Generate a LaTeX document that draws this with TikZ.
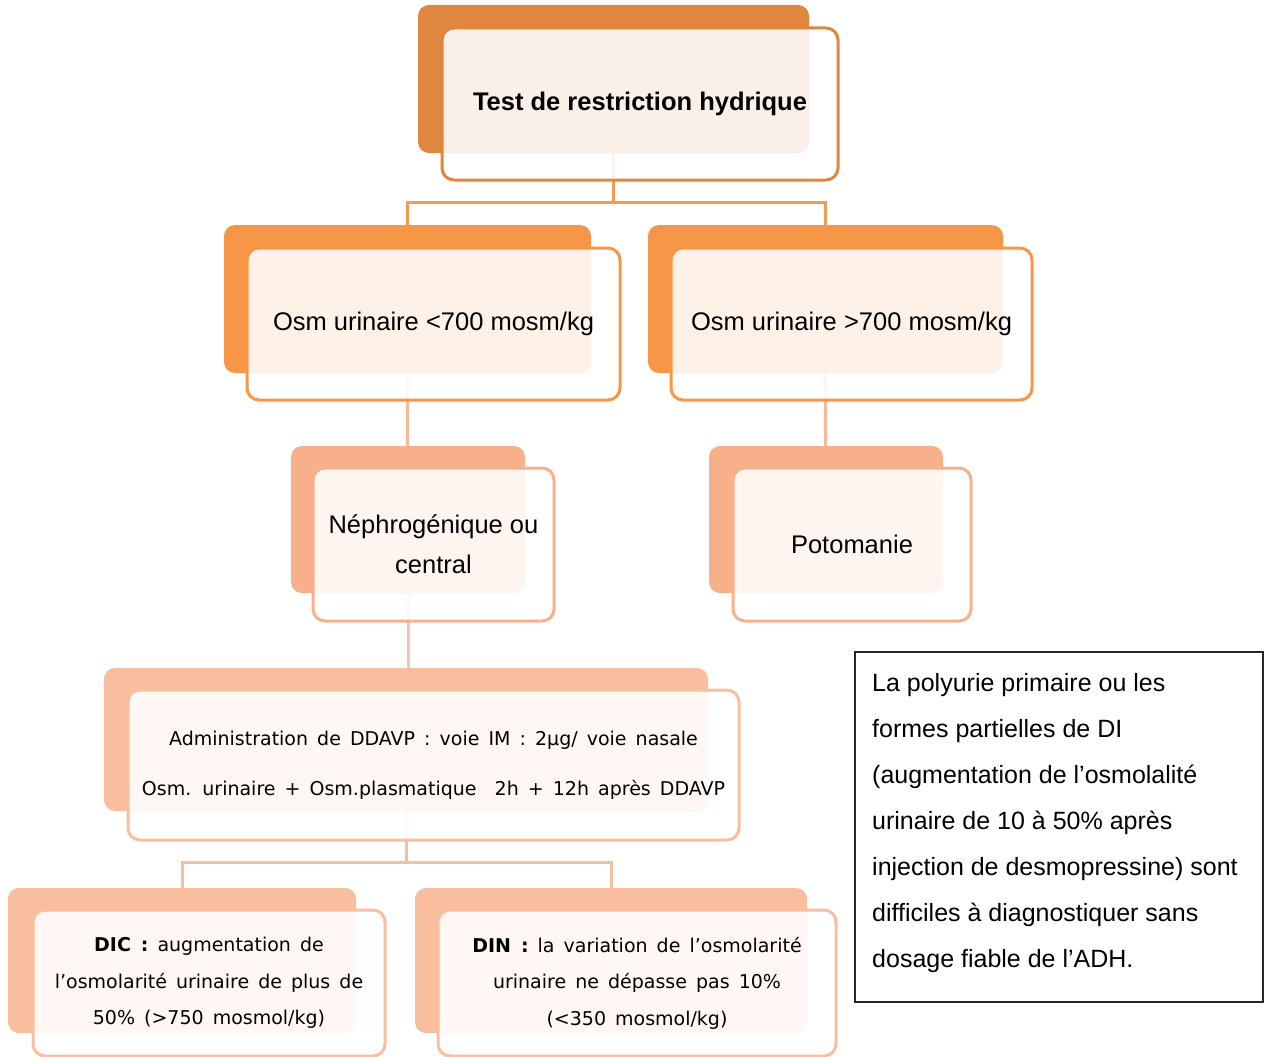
\documentclass[tikz,border=0pt]{standalone}
\usepackage{fontspec}
\setmainfont{Liberation Sans}
\newfontfamily\tah[WordSpace=1.5]{DejaVu Sans}
\usetikzlibrary{calc}

\definecolor{ocA}{HTML}{E0863F}
\definecolor{ocB}{HTML}{F79646}
\definecolor{ocC}{HTML}{F7B08A}
\definecolor{ocD}{HTML}{F8BE9E}
\definecolor{lnA}{HTML}{F59A55}
\definecolor{lnB}{HTML}{F9B995}
\definecolor{lnC}{HTML}{F9C5A8}
\definecolor{lnD}{HTML}{F8BF9F}

\tikzset{
  backtile/.style={draw=none, fill=#1, rounded corners=11pt, anchor=north west,
    inner sep=0pt, outer sep=0pt},
  fronttile/.style={draw=#1, line width=3pt, fill=white, fill opacity=0.88,
    text opacity=1, rounded corners=12pt, anchor=north west, inner sep=0pt,
    outer sep=0pt, align=center, text=black},
  link/.style={draw=#1, line width=3pt},
  notebox/.style={draw=black!85, line width=1.8pt, anchor=north west,
    inner sep=0pt},
  notetext/.style={anchor=north west, inner sep=0pt, align=left, text=black,
    font=\fontsize{25}{46}\selectfont},
  big/.style={font=\fontsize{25.5}{40}\selectfont},
  small/.style={font=\tah\fontsize{19}{36.5}\selectfont},
}

\begin{document}
\begin{tikzpicture}[x=1pt, y=-1pt]
\useasboundingbox (0,0) rectangle (1264,1057);

% back tiles
\node[backtile=ocA, minimum width=391pt, minimum height=148pt] (t1b) at (418,5) {};
\node[backtile=ocB, minimum width=367pt, minimum height=148pt] (l2ab) at (224,225) {};
\node[backtile=ocB, minimum width=355pt, minimum height=148pt] (l2bb) at (648,225) {};
\node[backtile=ocC, minimum width=234pt, minimum height=147pt] (l3ab) at (291,446) {};
\node[backtile=ocC, minimum width=234pt, minimum height=147pt] (l3bb) at (709,446) {};
\node[backtile=ocD, minimum width=604pt, minimum height=143pt] (l4b) at (104,668) {};
\node[backtile=ocD, minimum width=348pt, minimum height=145pt] (l5ab) at (8,888) {};
\node[backtile=ocD, minimum width=392pt, minimum height=145pt] (l5bb) at (415,888) {};

% connectors
\coordinate (j1) at (t1b.south |- 0,202);
\draw[link=lnA] (t1b.south) -- (j1);
\draw[link=lnA] (j1) -| (l2ab.north);
\draw[link=lnA] (j1) -| (l2bb.north);
\draw[link=lnB] (l2ab.south) -- (l2ab.south |- l3ab.north);
\draw[link=lnB] (l2bb.south) -- (l2bb.south |- l3bb.north);
\draw[link=lnC] (l3ab.south) -- (l3ab.south |- l4b.north);
\coordinate (j2) at (l4b.south |- 0,862);
\draw[link=lnD] (l4b.south) -- (j2);
\draw[link=lnD] (j2) -| (l5ab.north);
\draw[link=lnD] (j2) -| (l5bb.north);

% front tiles with their texts
\node[fronttile=ocA, minimum width=396pt, minimum height=152pt,
  font=\fontsize{25.5}{30}\selectfont\bfseries] (t1f) at (442,28)
  {Test de restriction hydrique};
\node[fronttile=ocB, minimum width=373pt, minimum height=152pt, big] (l2af) at (247,248)
  {Osm urinaire <700 mosm/kg};
\node[fronttile=ocB, minimum width=361pt, minimum height=152pt, big] (l2bf) at (671,248)
  {Osm urinaire >700 mosm/kg};
\node[fronttile=ocC, minimum width=241pt, minimum height=153pt, big] (l3af) at (313,468)
  {Néphrogénique ou\\central};
\node[fronttile=ocC, minimum width=238pt, minimum height=153pt, big] (l3bf) at (733,468)
  {Potomanie};
\node[fronttile=ocD, minimum width=611pt, minimum height=150pt,
  font=\tah\fontsize{19}{50}\selectfont] (l4f) at (128,690)
  {Administration de DDAVP : voie IM : 2µg/ voie nasale\\
   Osm. urinaire + Osm.plasmatique \ 2h + 12h après DDAVP};
\node[fronttile=ocD, minimum width=352pt, minimum height=146pt, small] (l5af) at (33,910)
  {{\bfseries DIC :} augmentation de\\
   l’osmolarité urinaire de plus de\\
   50\% (>750 mosmol/kg)};
\node[fronttile=ocD, minimum width=398pt, minimum height=146pt, small] (l5bf) at (438,910)
  {{\bfseries DIN :} la variation de l’osmolarité\\
   urinaire ne dépasse pas 10\%\\
   (<350 mosmol/kg)};

% side note
\node[notebox, minimum width=408pt, minimum height=350pt] (note) at (854,651) {};
\node[notetext] (notebody) at (872,673)
  {La polyurie primaire ou les\\
   formes partielles de DI\\
   (augmentation de l’osmolalité\\
   urinaire de 10 à 50\% après\\
   injection de desmopressine) sont\\
   difficiles à diagnostiquer sans\\
   dosage fiable de l’ADH.};
\end{tikzpicture}
\end{document}
